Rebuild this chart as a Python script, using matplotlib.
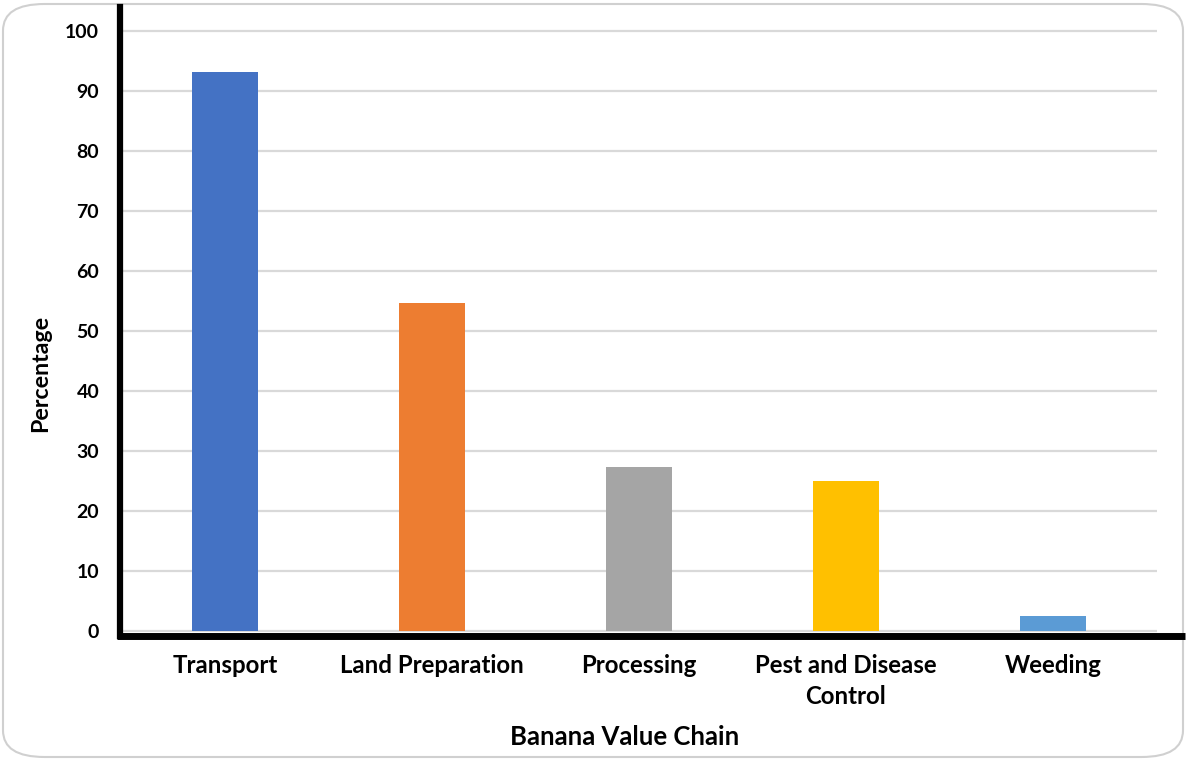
import matplotlib
matplotlib.use("Agg")
import matplotlib.pyplot as plt
from matplotlib.patches import FancyBboxPatch

# Share of respondents per stage of the banana value chain
categories = ["Transport", "Land Preparation", "Processing", "Pest and Disease\nControl", "Weeding"]
percentages = [93.2, 54.6, 27.3, 24.9, 2.4]
bar_colors = ["#4472C4", "#ED7D31", "#A5A5A5", "#FFC000", "#5B9BD5"]
y_ticks = [0, 10, 20, 30, 40, 50, 60, 70, 80, 90, 100]

plt.rcParams["font.family"] = ["Lato", "DejaVu Sans"]

W, H = 1187, 760
fig = plt.figure(figsize=(W / 100, H / 100), dpi=100)

# Rounded chart-area border
border = FancyBboxPatch((3 / W, 3 / H), (W - 7) / W, (H - 7) / H,
                        boxstyle="round,pad=0,rounding_size=0.035",
                        transform=fig.transFigure, facecolor="white",
                        edgecolor="#D0D0D0", linewidth=1.5, zorder=-5)
fig.patches.append(border)

ax = fig.add_axes([120 / W, (H - 635.5) / H, (1156.5 - 120) / W, (635.5 - 7) / H])
ax.set_zorder(2)
ax.set_facecolor("none")

x = list(range(len(categories)))
ax.bar(x, percentages, width=0.315, color=bar_colors, zorder=3)

ax.set_xlim(-0.507, len(categories) - 0.5)
ax.set_ylim(-0.8, 104)
ax.set_yticks(y_ticks)
ax.set_xticks(x)
ax.set_xticklabels(categories)

# Light horizontal gridlines at each tick
for t in y_ticks:
    ax.axhline(t, color="#D9D9D9", linewidth=1.6, zorder=1)

for s in ["top", "right", "bottom"]:
    ax.spines[s].set_visible(False)
ax.spines["left"].set_linewidth(4.5)
ax.spines["left"].set_color("black")
ax.spines["left"].set_zorder(4)

# Thick baseline running past the plot area to the right
ax.axhline(-0.8, xmin=-0.003, xmax=(1185 - 120) / (1156.5 - 120), color="black",
           linewidth=5, clip_on=False, zorder=4, solid_capstyle="butt")

ax.tick_params(axis="both", length=0)
ax.tick_params(axis="y", pad=15)
ax.tick_params(axis="x", pad=13)
for lab in ax.get_yticklabels():
    lab.set_fontsize(14)
    lab.set_fontweight("bold")
for lab in ax.get_xticklabels():
    lab.set_fontsize(17.3)
    lab.set_fontweight("bold")
    lab.set_linespacing(1.45)

fig.text(625 / W, 1 - 737 / H, "Banana Value Chain", ha="center", va="center",
         fontsize=18.5, fontweight="bold")
fig.text(41 / W, 1 - 373 / H, "Percentage", ha="center", va="center",
         rotation=90, fontsize=16.7, fontweight="bold")

fig.savefig("out.png", dpi=100)
